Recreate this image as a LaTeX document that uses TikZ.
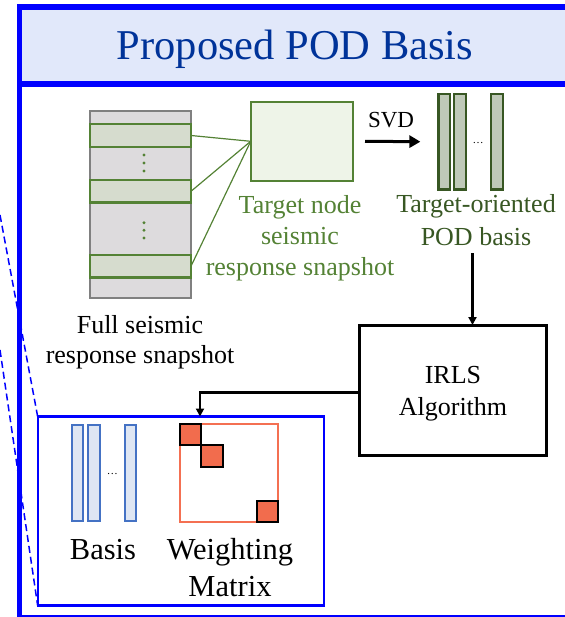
\documentclass[tikz,border=0pt]{standalone}
\usepackage{fontspec}
\setmainfont{Liberation Serif}
\usetikzlibrary{arrows.meta}
\definecolor{frameblue}{RGB}{0,0,255}
\definecolor{headblue}{RGB}{225,232,250}
\definecolor{titleblue}{RGB}{0,51,153}
\definecolor{snapgray}{RGB}{221,219,221}
\definecolor{snapline}{RGB}{128,128,128}
\definecolor{bandfill}{RGB}{214,220,206}
\definecolor{tgreen}{RGB}{84,130,53}
\definecolor{tfill}{RGB}{238,244,232}
\definecolor{podfill}{RGB}{191,201,184}
\definecolor{podline}{RGB}{56,87,35}
\definecolor{basisfill}{RGB}{222,230,243}
\definecolor{basisline}{RGB}{68,114,196}
\definecolor{wline}{RGB}{244,112,82}
\definecolor{wfill}{RGB}{242,108,77}
\begin{document}
\begin{tikzpicture}[x=1pt,y=-1pt,
		box/.style={draw,rectangle,inner sep=0pt,outer sep=0pt},
		band/.style={box,fill=bandfill,draw=tgreen,line width=2.3pt,minimum width=101pt,minimum height=22.4pt},
		podbar/.style={box,fill=podfill,draw=podline,line width=2.3pt,minimum width=11.8pt,minimum height=95.7pt},
		basisbar/.style={box,fill=basisfill,draw=basisline,line width=2pt,minimum width=11.3pt,minimum height=96pt},
		wsq/.style={box,fill=wfill,draw=black,line width=2pt,minimum size=21.3pt},
		label/.style={align=center,inner sep=0pt,anchor=base,font=\fontsize{26}{31}\selectfont},
		link/.style={line width=2.5pt,-{Triangle[length=8pt,width=8pt]}}]
	\useasboundingbox (0,0) rectangle (564,617);
	% header and outer frame
	\fill[headblue] (19.5,7) rectangle (570,84);
	\draw[frameblue,line width=5.5pt] (570,7) -- (19.5,7) -- (19.5,617.5) -- (570,617.5);
	\draw[frameblue,line width=5.5pt] (19.5,84) -- (570,84);
	\node[titleblue,inner sep=0pt,anchor=base,font=\fontsize{42.5}{50}\selectfont] (title) at (295,60) {Proposed POD Basis};
	% full snapshot
	\node[box,fill=snapgray,draw=snapline,line width=2pt,minimum width=101pt,minimum height=187pt] (snap) at (140.5,204.2) {};
	\node[band] (band1) at (140.5,135.5) {};
	\node[band] (band2) at (140.5,191.3) {};
	\node[band] (band3) at (140.5,266.2) {};
	\foreach \y in {155,163,171,222.7,230.3,238}
		\fill[tgreen] (144,\y) circle (1.6pt);
	\node[label,font=\fontsize{26}{30}\selectfont] (snaplabel) at (140,363) {Full seismic\\response snapshot};
	% target node snapshot
	\node[box,fill=tfill,draw=tgreen,line width=2pt,minimum width=102pt,minimum height=79.3pt] (target) at (301.7,141.3) {};
	\foreach \b in {band1,band2,band3}
		\draw[tgreen,line width=1.2pt] (\b.east) -- (target.west);
	\node[label,tgreen] (targetlabel) at (300,275) {Target node\\seismic\\response snapshot};
	% POD basis
	\node[podbar] (pod1) at (444.3,141.7) {};
	\node[podbar] (pod2) at (460,141.7) {};
	\node[podbar] (pod3) at (497,141.7) {};
	\node[inner sep=0pt,anchor=base,font=\fontsize{11}{12}\selectfont] (poddots) at (478,143.5) {\ldots};
	\node[label,podline,font=\fontsize{26}{32.3}\selectfont] (podlabel) at (476,245) {Target-oriented\\POD basis};
	\draw[line width=3pt,-{Triangle[length=11pt,width=12pt]}] ([xshift=12.3pt]target.east) -- ([xshift=-18pt]pod1.west);
	\node[inner sep=0pt,anchor=base,font=\fontsize{23}{27}\selectfont] (svd) at (391,127.7) {SVD};
	% IRLS
	\node[box,line width=3pt,minimum width=187.4pt,minimum height=130pt] (irls) at (453,390) {};
	\node[label,font=\fontsize{26}{32}\selectfont] (irlslabel) at (453,415) {IRLS\\Algorithm};
	\coordinate (podout) at (472.5,253);
	\draw[link] (podout) -- (podout |- irls.north);
	% basis and weighting matrix
	\node[box,draw=frameblue,line width=2.3pt,minimum width=286.5pt,minimum height=189pt] (inner) at (180.9,511) {};
	\coordinate (dash1) at (0,215);
	\coordinate (dash2) at (0,350);
	\draw[frameblue,line width=1.5pt,dash pattern=on 7pt off 4pt] (dash1) -- (inner.north west);
	\draw[frameblue,line width=1.5pt,dash pattern=on 7pt off 4pt] (dash2) -- (inner.south west);
	\node[basisbar] (bas1) at (77.4,473) {};
	\node[basisbar] (bas2) at (94,473) {};
	\node[basisbar] (bas3) at (130.7,473) {};
	\node[inner sep=0pt,anchor=base,font=\fontsize{11}{12}\selectfont] (basdots) at (112.3,474.5) {\ldots};
	\node[box,draw=wline,line width=2pt,minimum width=98.3pt,minimum height=98pt] (wmat) at (229.2,473) {};
	\node[wsq,anchor=north west] (wsq1) at (wmat.north west) {};
	\node[wsq,anchor=north west] (wsq2) at (wsq1.south east) {};
	\node[wsq,anchor=south east] (wsq3) at (wmat.south east) {};
	\node[label,font=\fontsize{30.5}{37}\selectfont] (baslabel) at (103,559.3) {Basis};
	\node[label,font=\fontsize{30.5}{37}\selectfont] (wlabel) at (230,596.7) {Weighting\\Matrix};
	\coordinate (wtop) at (200,416.5);
	\draw[link] ([yshift=-2.7pt]irls.west) -| (wtop);
\end{tikzpicture}
\end{document}
